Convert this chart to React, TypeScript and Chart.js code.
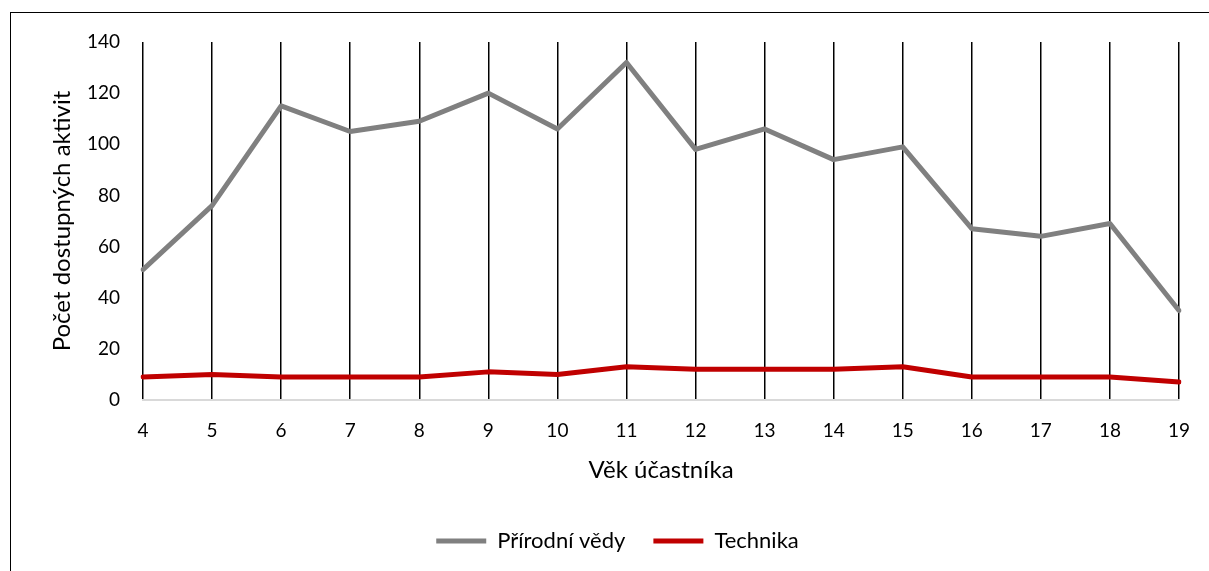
import React, { useEffect, useRef } from "react";
import { Chart, registerables } from "chart.js";

Chart.register(...registerables);

const categories = ["4", "5", "6", "7", "8", "9", "10", "11", "12", "13", "14", "15", "16", "17", "18", "19"];
const prirodniVedy = [51, 76, 115, 105, 109, 120, 106, 132, 98, 106, 94, 99, 67, 64, 69, 35];
const technika = [9, 10, 9, 9, 9, 11, 10, 13, 12, 12, 12, 13, 9, 9, 9, 7];
const yTicks = [0, 20, 40, 60, 80, 100, 120, 140];

const FONT = "Lato";

export default function App() {
  const ref = useRef<HTMLCanvasElement>(null);

  useEffect(() => {
    if (!ref.current) return;
    const chart = new Chart(ref.current, {
      type: "line",
      data: {
        labels: categories,
        datasets: [
          {
            label: "Přírodní vědy",
            data: prirodniVedy,
            borderColor: "#808080",
            backgroundColor: "#808080",
            borderWidth: 5,
            pointRadius: 0,
            tension: 0,
            borderCapStyle: "round",
            borderJoinStyle: "round",
          },
          {
            label: "Technika",
            data: technika,
            borderColor: "#c00000",
            backgroundColor: "#c00000",
            borderWidth: 5,
            pointRadius: 0,
            tension: 0,
            borderCapStyle: "round",
            borderJoinStyle: "round",
          },
        ],
      },
      options: {
        animation: false,
        responsive: false,
        layout: { padding: { left: 55, top: 42, right: 29, bottom: 9 } },
        plugins: {
          tooltip: { enabled: false },
          legend: {
            position: "bottom",
            labels: {
              usePointStyle: true,
              pointStyle: "line",
              pointStyleWidth: 50,
              boxHeight: 10,
              padding: 28,
              color: "#000",
              font: { family: FONT, size: 22 },
            },
          },
        },
        scales: {
          x: {
            grid: { display: true, color: "#000", lineWidth: 1.5, drawTicks: false },
            border: { display: true, color: "#d9d9d9", width: 2 },
            ticks: { color: "#000", font: { family: FONT, size: 19 }, padding: 19, maxRotation: 0 },
            title: {
              display: true,
              text: "Věk účastníka",
              color: "#000",
              font: { family: FONT, size: 24 },
              padding: { top: 0, bottom: 17 },
            },
            afterFit: (s: any) => {
              s.height = 102;
            },
          },
          y: {
            min: 0,
            max: 140,
            afterBuildTicks: (s: any) => {
              s.ticks = yTicks.map((v) => ({ value: v }));
            },
            grid: { display: false, drawTicks: false },
            border: { display: false },
            ticks: { color: "#000", font: { family: FONT, size: 19 }, padding: 23 },
            title: {
              display: true,
              text: "Počet dostupných aktivit",
              color: "#000",
              font: { family: FONT, size: 24 },
              padding: { top: -7, bottom: 0 },
            },
            afterFit: (s: any) => {
              s.width = 88;
            },
          },
        },
      },
    });
    return () => chart.destroy();
  }, []);

  return (
    <div style={{ position: "fixed", left: 0, top: 0, width: 1209, height: 571, background: "#fff", overflow: "hidden" }}>
      <canvas ref={ref} width={1209} height={571} style={{ position: "absolute", left: 0, top: 0, width: 1209, height: 571 }} />
      <div
        style={{
          position: "absolute",
          left: 10,
          top: 12,
          width: 1300,
          height: 700,
          borderLeft: "1.5px solid #000",
          borderTop: "1.5px solid #000",
          pointerEvents: "none",
        }}
      />
    </div>
  );
}
